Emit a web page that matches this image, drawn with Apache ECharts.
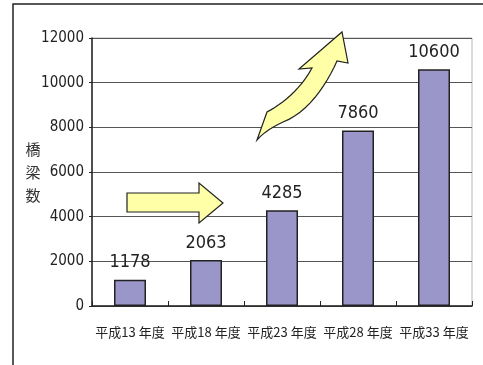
<!DOCTYPE html>
<html>
<head>
<meta charset="utf-8">
<script src="https://cdn.jsdelivr.net/npm/echarts@6/dist/echarts.min.js"></script>
<style>
  html, body { margin: 0; padding: 0; background: #fff; }
  #chart { width: 483px; height: 365px; }
</style>
</head>
<body>
<div id="chart"></div>
<script>
// Number of bridges by fiscal year
const categories = ['平成13 年度', '平成18 年度', '平成23 年度', '平成28 年度', '平成33 年度'];
const bridgeCounts = [1178, 2063, 4285, 7860, 10600];
const yTicks = [0, 2000, 4000, 6000, 8000, 10000, 12000];
const yAxisTitle = '橋梁数';

const numFont = "'Liberation Sans Narrow', 'DejaVu Sans Condensed', 'Liberation Sans', sans-serif";
const cjkFont = "'Liberation Sans Narrow', 'Noto Sans CJK JP', sans-serif";

// Sample a cubic Bezier segment into polygon points (excluding the start point)
function cubic(p0, p1, p2, p3, n) {
  const pts = [];
  for (let i = 1; i <= n; i++) {
    const t = i / n, u = 1 - t;
    pts.push([
      u * u * u * p0[0] + 3 * u * u * t * p1[0] + 3 * u * t * t * p2[0] + t * t * t * p3[0],
      u * u * u * p0[1] + 3 * u * u * t * p1[1] + 3 * u * t * t * p2[1] + t * t * t * p3[1]
    ]);
  }
  return pts;
}

// Outline of the curved rising arrow
const curvedArrow = [[257, 140], [267, 112]]
  .concat(cubic([267, 112], [282, 104], [300, 90], [312, 68], 12))
  .concat([[299, 69], [342, 32], [348, 63], [337, 61]])
  .concat(cubic([337, 61], [326, 86], [307, 113], [283, 122], 12))
  .concat(cubic([283, 122], [274, 126], [264, 132], [257, 140], 6));

const chart = echarts.init(document.getElementById('chart'), null, { renderer: 'canvas' });

chart.setOption({
  animation: false,
  backgroundColor: '#ffffff',
  grid: { left: 92, top: 38, right: 11, bottom: 59, show: true, borderColor: '#b8b8b8', borderWidth: 1, backgroundColor: 'transparent' },
  xAxis: {
    type: 'category',
    data: categories,
    axisLine: { lineStyle: { color: '#222', width: 1.5 } },
    axisTick: { show: true, inside: true, length: 5, lineStyle: { color: '#222', width: 1 } },
    axisLabel: { interval: 0, color: '#222', fontSize: 13, fontFamily: cjkFont, margin: 20 },
    splitLine: { show: false }
  },
  yAxis: {
    type: 'value',
    min: yTicks[0],
    max: yTicks[yTicks.length - 1],
    interval: yTicks[1] - yTicks[0],
    axisLine: { show: true, lineStyle: { color: '#222', width: 1.5 } },
    axisTick: { show: true, length: 3, lineStyle: { color: '#222' } },
    axisLabel: { color: '#222', fontSize: 15, fontFamily: numFont, margin: 8, formatter: v => String(v) },
    splitLine: { lineStyle: { color: '#555', width: 1 } }
  },
  series: [{
    type: 'bar',
    data: bridgeCounts,
    barWidth: 32,
    itemStyle: { color: '#9b96c9', borderColor: '#222', borderWidth: 1.5 },
    label: {
      show: true,
      position: 'top',
      distance: 8,
      color: '#222',
      fontSize: 18,
      fontFamily: numFont
    }
  }],
  graphic: [
    // outer frame
    { type: 'rect', shape: { x: 13, y: 4, width: 520, height: 420 }, style: { fill: 'none', stroke: '#222', lineWidth: 1.5 }, z: 0 },
    // vertical axis title
    {
      type: 'text', x: 33, y: 138,
      style: { text: yAxisTitle.split('').join('\n'), font: "15px 'Noto Sans CJK JP', sans-serif", fill: '#333', lineHeight: 23, align: 'center' }
    },
    // straight arrow
    {
      type: 'polygon', z: 10,
      shape: { points: [[127, 193], [199, 193], [199, 183], [223, 203], [199, 223], [199, 212], [127, 212]] },
      style: { fill: '#ffffa8', stroke: '#222', lineWidth: 1.2 }
    },
    // curved rising arrow
    {
      type: 'polygon', z: 10,
      shape: { points: curvedArrow },
      style: { fill: '#ffffa8', stroke: '#222', lineWidth: 1.2 }
    }
  ]
});
</script>
</body>
</html>
